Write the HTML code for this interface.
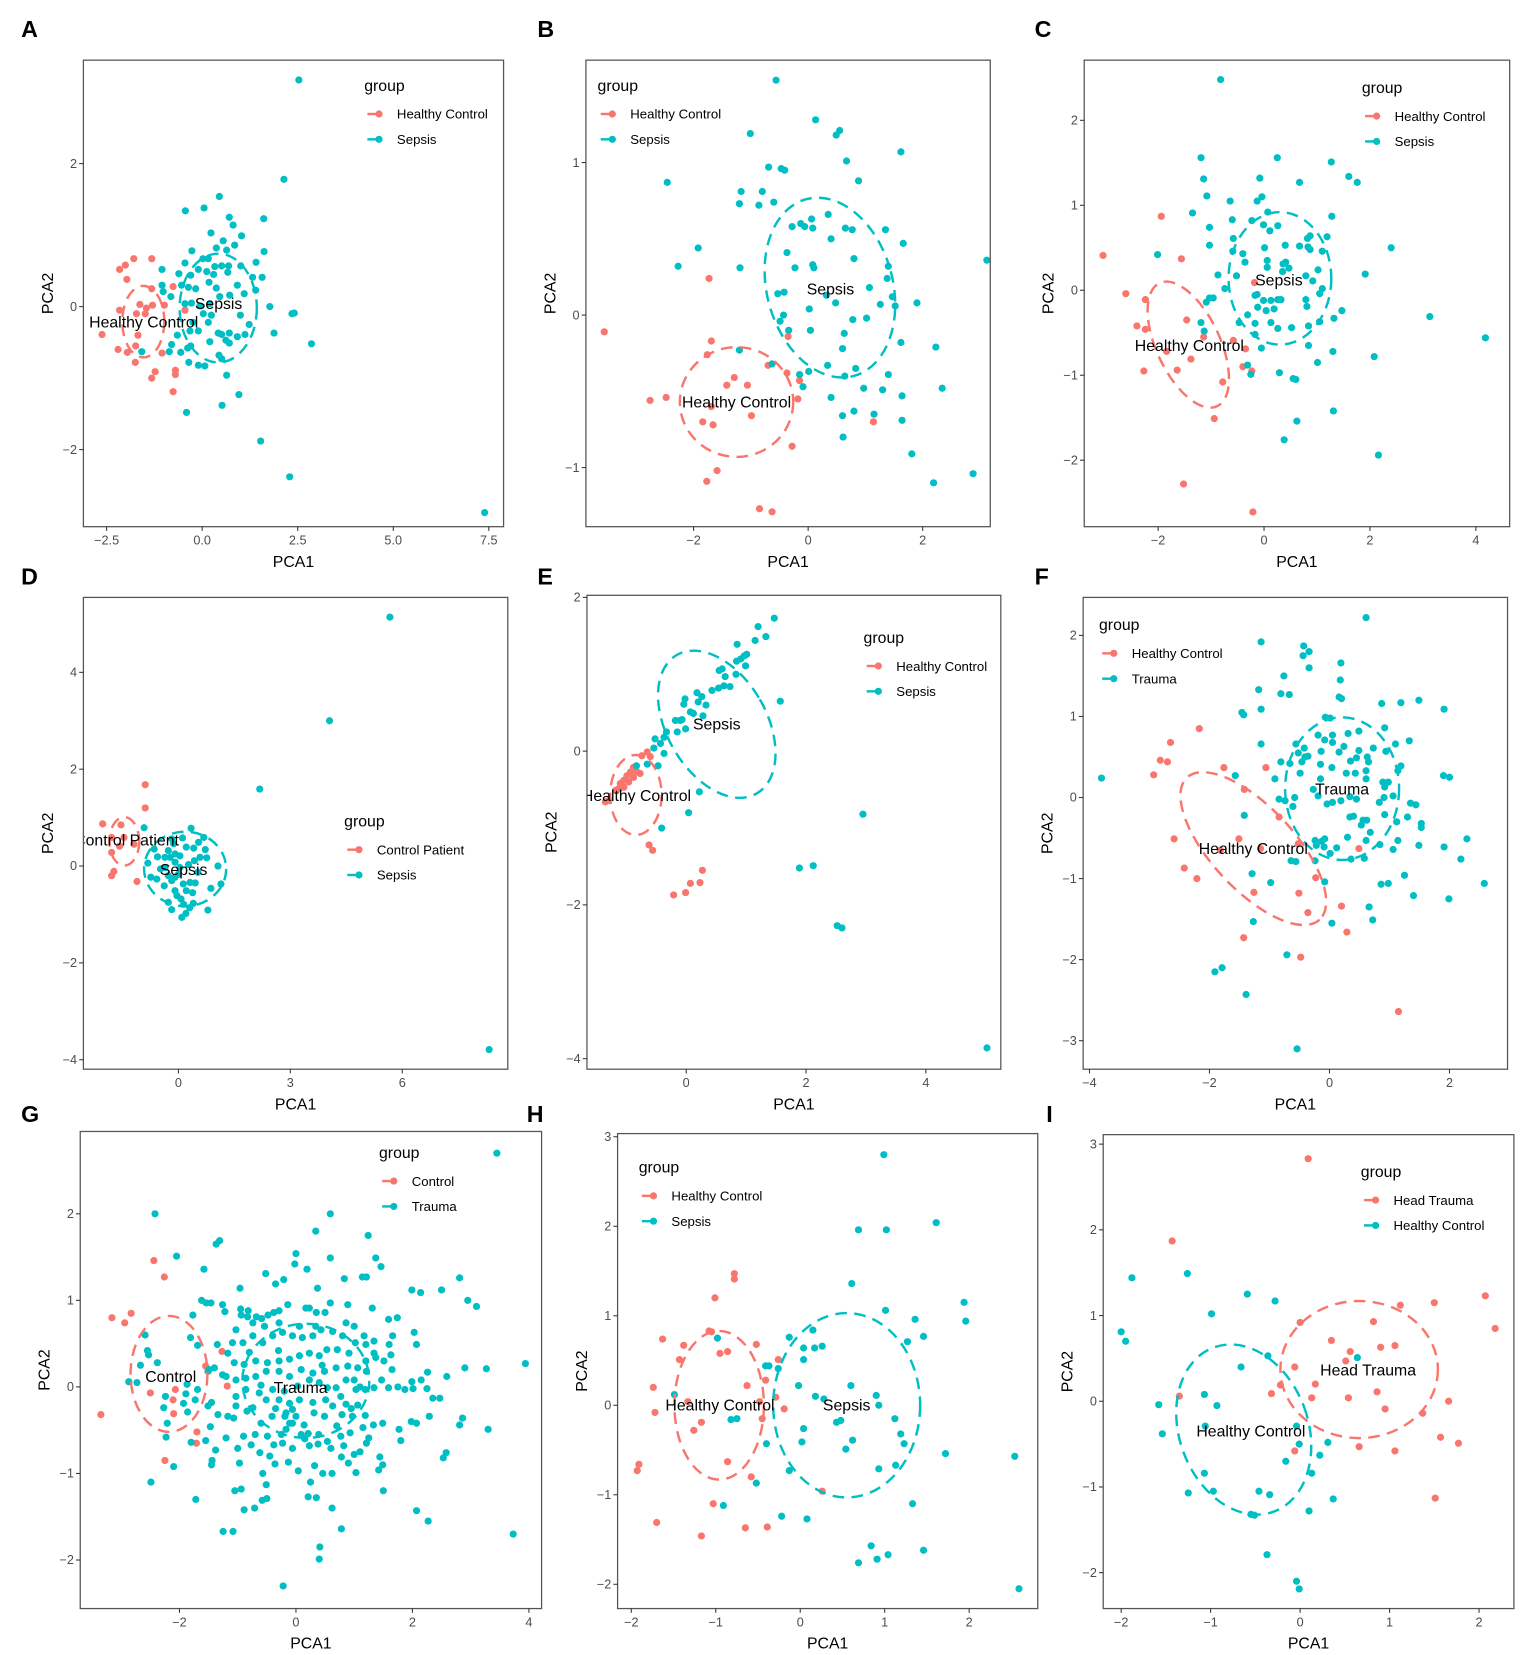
<!DOCTYPE html>
<html><head><meta charset="utf-8">
<style>
html,body{margin:0;padding:0;background:#fff;}
svg{display:block;font-family:"Liberation Sans",Arial,sans-serif;}
</style></head>
<body>
<svg id="fig" xmlns="http://www.w3.org/2000/svg" width="1535" height="1655" viewBox="0 0 1454 1568" preserveAspectRatio="none">
<rect x="0" y="0" width="1454" height="1568" fill="#ffffff"/>
</svg>
<script>
// ---------- DATA ----------
const aRed=[[-2.16,0.52],[-2.01,0.58],[-1.79,0.67],[-1.32,0.67],[-1.97,0.38],[-1.32,0.25],[-0.76,0.28],[-2.16,-0.05],[-1.63,0.03],[-1.46,-0.02],[-1.3,0.02],[-0.99,0.02],[-1.72,-0.1],[-1.49,-0.1],[-2.62,-0.39],[-1.68,-0.4],[-2.2,-0.6],[-1.96,-0.64],[-1.74,-0.55],[-1.75,-0.78],[-1.05,-0.65],[-1.23,-0.91],[-1.32,-1.0],[-0.7,-0.89],[-0.7,-0.95],[-0.76,-1.19],[-0.45,-0.05]];
const aTeal=[[2.53,3.17],[2.14,1.78],[0.45,1.54],[-0.44,1.34],[0.05,1.38],[0.71,1.25],[0.81,1.14],[1.61,1.23],[0.23,1.03],[1.03,0.99],[0.55,0.92],[0.85,0.86],[1.62,0.77],[0.37,0.82],[0.64,0.79],[-0.27,0.78],[-0.45,0.61],[0.02,0.67],[0.16,0.67],[0.33,0.56],[0.51,0.57],[0.69,0.57],[1.01,0.57],[1.41,0.62],[-1.05,0.52],[-0.61,0.46],[-0.3,0.44],[-0.1,0.52],[0.12,0.49],[0.3,0.45],[0.67,0.48],[1.32,0.41],[1.57,0.41],[-1.05,0.3],[-0.54,0.3],[-0.36,0.27],[-0.17,0.25],[0.18,0.34],[0.37,0.26],[0.92,0.3],[1.4,0.23],[1.1,0.18],[-0.82,0.14],[-1.02,0.21],[-0.45,0.04],[-0.28,0.05],[-0.06,0.01],[0.2,0.04],[0.46,0.14],[0.72,0.16],[1.77,0],[0.03,-0.1],[0.24,-0.12],[1.0,-0.12],[2.35,-0.1],[2.41,-0.09],[-0.24,-0.22],[0.16,-0.22],[1.23,-0.25],[-0.32,-0.34],[-0.1,-0.34],[-0.65,-0.4],[0.42,-0.37],[0.51,-0.39],[0.71,-0.37],[0.92,-0.42],[1.12,-0.39],[1.88,-0.37],[2.86,-0.52],[-0.8,-0.53],[0.2,-0.49],[0.62,-0.47],[0.71,-0.51],[-0.3,-0.55],[-0.38,-0.58],[-0.86,-0.63],[-0.56,-0.64],[-1.58,-0.63],[0.44,-0.68],[0.51,-0.73],[-0.35,-0.78],[-0.1,-0.82],[0.07,-0.83],[0.64,-0.96],[0.52,-1.38],[0.96,-1.23],[-0.41,-1.48],[1.53,-1.88],[2.29,-2.38],[7.39,-2.88]];
const bRed=[[-3.56,-0.11],[-1.73,0.24],[-1.69,-0.17],[-1.76,-0.26],[-0.7,-0.33],[-0.35,-0.14],[-0.37,-0.38],[-0.15,-0.43],[-0.18,-0.55],[-1.29,-0.41],[-1.42,-0.46],[-1.06,-0.46],[-2.76,-0.56],[-2.48,-0.54],[-1.69,-0.6],[-0.99,-0.66],[-1.84,-0.7],[-1.66,-0.72],[-0.28,-0.86],[1.14,-0.7],[-1.59,-1.02],[-1.77,-1.09],[-0.85,-1.27],[-0.63,-1.29]];
const bTeal=[[-0.56,1.54],[0.13,1.28],[-1.01,1.19],[0.49,1.18],[0.55,1.21],[1.62,1.07],[0.67,1.01],[-0.69,0.97],[-0.47,0.96],[-0.41,0.95],[-2.46,0.87],[0.88,0.88],[-1.17,0.81],[-0.8,0.81],[-1.2,0.73],[-0.86,0.72],[-0.6,0.74],[0.06,0.63],[0.35,0.66],[-0.28,0.58],[-0.13,0.6],[-0.06,0.58],[0.08,0.57],[0.65,0.57],[0.77,0.56],[1.35,0.56],[0.4,0.5],[1.66,0.47],[-1.92,0.44],[-0.37,0.41],[0.8,0.37],[3.12,0.36],[-2.27,0.32],[-1.19,0.31],[-0.23,0.31],[0.08,0.33],[0.1,0.31],[1.4,0.32],[1.38,0.24],[1.07,0.18],[-0.53,0.14],[-0.42,0.15],[0.32,0.13],[0.48,0.08],[1.26,0.07],[1.47,0.12],[1.52,0.06],[1.9,0.08],[0.02,0.04],[-0.43,0],[-0.49,-0.04],[0.78,-0.03],[1.02,-0.02],[-0.34,-0.1],[0.04,-0.1],[0.63,-0.12],[1.62,-0.18],[0.6,-0.22],[2.23,-0.21],[-1.2,-0.23],[-0.63,-0.32],[0.34,-0.33],[0.01,-0.37],[-0.15,-0.39],[0.83,-0.35],[0.64,-0.4],[1.4,-0.39],[-0.09,-0.47],[0.97,-0.48],[1.3,-0.49],[2.34,-0.48],[1.64,-0.53],[0.4,-0.54],[0.6,-0.66],[0.8,-0.63],[1.15,-0.65],[1.64,-0.69],[0.61,-0.8],[1.81,-0.91],[2.88,-1.04],[2.19,-1.1]];
const cRed=[[-3.04,0.41],[-1.94,0.87],[-2.61,-0.04],[-1.56,0.37],[-2.24,-0.11],[-2.4,-0.42],[-2.24,-0.46],[-1.46,-0.35],[-1.14,-0.55],[-1.84,-0.72],[-1.38,-0.81],[-1.64,-0.94],[-2.27,-0.95],[-0.78,-1.08],[-0.94,-1.51],[-1.52,-2.28],[-0.21,-2.61],[-0.18,0.09],[-0.58,-0.59],[-0.35,-0.69],[-0.4,-0.9],[-0.23,-0.95]];
const cTeal=[[-0.82,2.48],[-1.19,1.56],[0.25,1.56],[1.27,1.51],[-1.14,1.31],[-0.08,1.32],[0.67,1.27],[1.6,1.34],[1.76,1.27],[-1.08,1.11],[-0.64,1.05],[-0.13,1.05],[-0.04,1.1],[-1.35,0.91],[-0.6,0.83],[0.07,0.92],[-0.23,0.82],[-0.01,0.77],[0.26,0.76],[0.11,0.7],[1.28,0.87],[-1.03,0.74],[-0.58,0.61],[0.82,0.61],[0.87,0.64],[1.19,0.63],[-1.03,0.53],[0.01,0.5],[0.4,0.53],[0.67,0.52],[0.83,0.51],[0.87,0.48],[1.1,0.46],[2.4,0.5],[-2.01,0.42],[-0.59,0.46],[-0.4,0.43],[-0.36,0.33],[0.06,0.35],[0.06,0.27],[0.36,0.31],[0.41,0.33],[0.47,0.26],[0.35,0.22],[1.02,0.24],[-0.87,0.18],[-0.52,0.17],[1.91,0.19],[0.79,0.17],[0.92,0.11],[1.1,0.02],[-0.74,0.02],[-0.17,-0.06],[-0.13,-0.05],[-0.01,-0.12],[0.13,-0.12],[0.26,-0.11],[0.32,-0.11],[0.79,-0.11],[1.05,-0.04],[-1.03,-0.09],[-0.96,-0.09],[-1.09,-0.14],[-0.12,-0.2],[0.04,-0.24],[0.19,-0.22],[0.81,-0.19],[1.47,-0.24],[-0.31,-0.29],[-1.19,-0.38],[-0.47,-0.38],[-0.17,-0.39],[0.13,-0.38],[0.26,-0.45],[0.52,-0.44],[0.84,-0.42],[1.05,-0.37],[1.32,-0.33],[3.13,-0.31],[-1.13,-0.48],[-0.17,-0.52],[-0.05,-0.68],[0.84,-0.65],[1.3,-0.72],[4.18,-0.56],[2.08,-0.78],[-0.31,-0.88],[-0.25,-0.99],[0.29,-0.97],[0.55,-1.04],[0.6,-1.05],[1.01,-0.85],[1.31,-1.42],[0.62,-1.54],[0.38,-1.76],[2.16,-1.94]];
const dRed=[[-0.89,1.68],[-0.89,1.2],[-2.03,0.87],[-1.54,0.85],[-1.79,0.59],[-1.46,0.59],[-1.58,0.41],[-1.79,0.28],[-1.73,-0.11],[-1.79,-0.2],[-1.11,-0.32],[-1.19,0.45]];
const dTeal=[[5.67,5.14],[4.05,3.0],[2.18,1.59],[8.33,-3.79],[-0.92,0.79],[0.34,0.78],[0.11,0.58],[0.68,0.59],[0.54,0.49],[0.72,0.34],[0.41,0.37],[0.21,0.39],[-0.13,0.46],[-0.27,0.32],[-0.36,0.18],[-0.56,0.19],[-0.65,0.35],[-0.82,0.06],[0.76,0.17],[0.43,0.11],[1.06,0],[0.27,0.03],[-0.09,0.08],[-0.48,-0.06],[-0.74,-0.23],[-0.58,-0.27],[-0.38,-0.41],[-0.18,-0.3],[0,-0.17],[0.13,-0.37],[0.31,-0.34],[0.45,-0.35],[0.87,-0.46],[1.14,-0.37],[0.21,-0.51],[0.38,-0.55],[-0.04,-0.61],[0.07,-0.68],[-0.27,-0.75],[0.14,-0.79],[0.4,-0.77],[0.3,-0.86],[-0.18,-0.9],[0.79,-0.91],[0.09,-1.06],[0.2,-0.98],[-0.09,-0.51],[-0.22,0.18],[-0.09,0.25],[-0.36,-0.03],[0.04,-0.03],[0.52,-0.13],[-0.09,-0.23],[-0.27,-0.2],[0.04,0.21],[-0.18,0.56],[0.58,0.18]];
const eRed=[[-1.35,-0.66],[-1.29,-0.64],[-1.13,-0.49],[-1.1,-0.42],[-1.04,-0.38],[-0.99,-0.32],[-0.93,-0.27],[-0.88,-0.21],[-0.82,-0.27],[-0.77,-0.29],[-0.74,-0.06],[-0.65,-0.01],[-0.6,-0.07],[-1.04,-0.47],[-1.18,-0.51],[-0.62,-1.22],[-0.56,-1.29],[0.27,-1.55],[0.23,-1.71],[0.07,-1.72],[-0.01,-1.84],[-0.21,-1.87],[-0.96,-0.4],[-0.88,-0.34]];
const eTeal=[[1.47,1.73],[1.2,1.62],[1.33,1.49],[1.15,1.44],[0.85,1.39],[1.01,1.26],[0.97,1.24],[0.91,1.2],[0.84,1.17],[0.99,1.11],[0.55,1.05],[0.6,1.07],[0.65,0.97],[0.83,1.0],[0.73,0.84],[0.63,0.85],[0.54,0.82],[0.43,0.79],[0.18,0.76],[0.26,0.71],[0.2,0.64],[0.33,0.6],[-0.02,0.68],[-0.04,0.61],[1.57,0.65],[0.07,0.51],[0.12,0.49],[0.28,0.46],[-0.07,0.41],[-0.18,0.4],[-0.1,0.4],[-0.01,0.29],[-0.15,0.25],[-0.33,0.25],[-0.37,0.18],[-0.52,0.16],[-0.43,0.1],[-0.54,0.04],[-0.37,-0.03],[-0.65,-0.17],[-0.47,-0.19],[-0.83,-0.19],[0.22,-0.53],[0.04,-0.8],[-0.41,-1.0],[2.95,-0.82],[1.89,-1.52],[2.12,-1.49],[2.52,-2.27],[2.6,-2.3],[5.02,-3.86]];
const fRed=[[-2.17,0.85],[-2.65,0.68],[-2.82,0.46],[-2.7,0.44],[-2.93,0.28],[-1.76,0.37],[-1.06,0.37],[-1.42,0.1],[-0.84,-0.24],[-2.59,-0.51],[-1.51,-0.51],[-1.15,-0.63],[-1.82,-0.65],[-0.52,-0.57],[0.49,-0.63],[-2.42,-0.87],[-2.21,-1.0],[-0.23,-0.99],[-1.26,-1.17],[-0.51,-1.18],[-0.36,-1.42],[0.2,-1.34],[0.29,-1.66],[-1.43,-1.73],[-0.48,-1.97],[1.15,-2.64]];
const fTeal=[[0.61,2.22],[-1.14,1.92],[-0.43,1.87],[-0.34,1.8],[-0.44,1.75],[-0.34,1.6],[0.19,1.66],[-0.76,1.5],[0.18,1.45],[-1.18,1.33],[-0.81,1.28],[-0.67,1.27],[0.16,1.24],[0.2,1.22],[0.87,1.16],[1.19,1.17],[1.49,1.2],[1.91,1.09],[-1.46,1.05],[-1.43,1.02],[-1.14,1.09],[-0.07,0.99],[0.01,0.98],[0.92,0.86],[-0.19,0.77],[0.05,0.77],[0.31,0.79],[0.49,0.82],[-0.08,0.71],[0.05,0.68],[-0.56,0.66],[-1.14,0.66],[1.1,0.66],[1.33,0.7],[-0.42,0.61],[0.24,0.63],[-0.14,0.57],[-0.52,0.55],[0.16,0.56],[0.73,0.61],[0.49,0.58],[-0.41,0.5],[-0.36,0.51],[-0.46,0.44],[-0.81,0.44],[-0.66,0.42],[-0.15,0.41],[0.04,0.37],[0.35,0.45],[0.45,0.49],[0.63,0.5],[0.65,0.44],[0.94,0.57],[1.19,0.39],[1.14,0.33],[-1.57,0.27],[-0.91,0.23],[-0.49,0.3],[-0.15,0.23],[0.28,0.3],[0.61,0.33],[0.43,0.3],[0.61,0.23],[1.9,0.27],[2.0,0.25],[-3.8,0.24],[-0.27,0.1],[-0.19,0.02],[0.89,0.19],[0.92,0.13],[0.98,0.19],[0.34,0.01],[0.45,-0.02],[-0.58,0],[-0.84,-0.02],[-0.74,-0.04],[-0.04,-0.08],[0.05,-0.06],[0.19,-0.04],[0.83,-0.06],[0.91,0],[1.06,0.02],[1.35,-0.07],[1.44,-0.09],[-0.61,-0.11],[-1.42,-0.22],[0.34,-0.24],[0.4,-0.23],[0.56,-0.28],[0.62,-0.28],[0.53,-0.34],[0.92,-0.21],[1.12,-0.3],[1.3,-0.24],[1.53,-0.32],[1.53,-0.37],[0.68,-0.43],[0.3,-0.49],[0.61,-0.53],[-0.24,-0.53],[-0.08,-0.51],[-0.13,-0.54],[-0.22,-0.59],[-0.09,-0.61],[0.12,-0.62],[0.84,-0.58],[1.14,-0.53],[1.49,-0.59],[1.91,-0.61],[2.29,-0.51],[0.01,-0.69],[-0.64,-0.78],[-0.56,-0.79],[-0.24,-0.78],[0.36,-0.76],[0.58,-0.75],[1.06,-0.64],[2.19,-0.76],[-1.29,-0.94],[-0.98,-1.05],[-0.08,-1.04],[0.86,-1.07],[0.98,-1.06],[1.25,-0.96],[2.58,-1.06],[1.4,-1.21],[1.99,-1.25],[0.66,-1.35],[0.72,-1.51],[-1.27,-1.53],[0.04,-1.55],[-0.71,-1.94],[-1.79,-2.1],[-1.91,-2.15],[-1.39,-2.43],[-0.54,-3.1]];
const gRed=[[-3.16,0.8],[-2.83,0.85],[-2.94,0.74],[-2.44,1.46],[-2.26,1.27],[-1.27,0.41],[-1.18,0.01],[-2.07,-0.03],[-2.5,-0.07],[-2.11,-0.15],[-2.1,-0.31],[-3.35,-0.32],[-1.7,-0.52],[-1.71,-0.65],[-2.25,-0.85],[-1.55,0.24]];
const gTeal=[[3.45,2.7],[-2.42,2.0],[0.59,2.0],[0.34,1.8],[1.24,1.75],[-1.37,1.65],[-1.31,1.69],[-2.05,1.51],[0,1.54],[0.59,1.49],[1.37,1.49],[1.46,1.39],[-1.58,1.36],[-0.02,1.42],[0.19,1.36],[-0.52,1.31],[-0.35,1.19],[-0.21,1.24],[0.37,1.14],[0.83,1.25],[1.14,1.27],[1.21,1.27],[2.81,1.26],[-0.96,1.14],[1.99,1.12],[2.14,1.09],[2.5,1.12],[2.95,1.0],[3.1,0.93],[-1.62,1.0],[-1.54,0.97],[-1.46,0.97],[-1.26,0.95],[-0.14,0.95],[0.59,0.97],[0.89,0.95],[1.31,0.91],[-1.77,0.83],[-1.22,0.87],[-0.95,0.9],[-0.82,0.88],[-0.94,0.83],[-0.83,0.81],[-0.68,0.81],[-0.59,0.79],[-0.48,0.83],[-0.38,0.86],[-0.29,0.88],[0.17,0.91],[0.23,0.91],[0.35,0.86],[0.5,0.86],[1.59,0.78],[1.74,0.8],[-2.59,0.6],[-1.81,0.57],[2.03,0.63],[2.07,0.49],[-2.55,0.42],[-2.53,0.37],[-2.67,0.25],[-2.38,0.28],[-2.87,0.06],[-2.73,0.05],[3.94,0.27],[2.9,0.22],[3.27,0.21],[2.59,0.12],[2.26,0.17],[2.15,0.08],[1.99,0.06],[2.01,-0.02],[1.87,-0.03],[1.75,0],[1.59,-0.01],[2.25,-0.02],[2.35,-0.13],[2.47,-0.13],[2.29,-0.34],[2.86,-0.36],[2.81,-0.44],[3.3,-0.49],[1.98,-0.4],[2.07,-0.42],[1.77,-0.49],[1.8,-0.62],[1.49,-0.42],[2.58,-0.76],[2.53,-0.82],[1.44,-0.81],[1.49,-0.9],[1.42,-0.96],[1.5,-1.2],[2.07,-1.43],[2.27,-1.55],[3.73,-1.7],[-2.49,-1.1],[-2.1,-0.92],[-2.23,-0.58],[-2.21,-0.42],[-2.27,-0.24],[-2.24,-0.11],[-1.87,0.03],[-1.89,-0.08],[-1.93,-0.19],[-1.86,-0.29],[-1.69,-0.03],[-1.73,-0.15],[-1.51,-0.22],[-1.45,-0.18],[-1.34,-0.32],[-1.47,-0.46],[-1.55,-0.62],[-1.8,-0.64],[-1.38,-0.73],[-1.44,-0.85],[-1.45,-0.9],[-1.72,-1.3],[-1.05,-1.2],[-0.94,-1.18],[-0.89,-1.42],[-0.71,-1.4],[-1.25,-1.67],[-1.08,-1.67],[-0.58,-1.31],[-0.5,-1.29],[-0.51,-1.13],[0.21,-1.27],[0.35,-1.28],[0.25,-1.1],[0.62,-1.4],[0.78,-1.64],[0.41,-1.85],[0.4,-1.99],[-0.22,-2.3],[-0.97,-0.88],[-0.57,-1.0],[-0.36,-0.89],[-0.13,-0.87],[0.04,-0.97],[0.32,-0.91],[0.46,-1.0],[0.62,-1.0],[1.03,-0.99],[0.9,-0.88],[0.78,-0.81],[1.0,-0.78],[1.1,-0.75],[1.25,-0.59],[1.21,-0.65],[0.82,-0.68],[0.6,-0.71],[0.38,-0.66],[0.23,-0.68],[0.09,-0.55],[-0.06,-0.71],[-0.23,-0.65],[-0.38,-0.67],[-0.62,-0.76],[-0.77,-0.67],[-1.0,-0.71],[-1.2,-0.59],[-0.9,-0.57],[-0.7,-0.55],[-0.49,-0.57],[-0.25,-0.55],[0.21,-0.54],[0.39,-0.55],[0.54,-0.63],[0.77,-0.57],[0.93,-0.53],[1.15,-0.47],[1.33,-0.44],[1.19,-0.33],[0.97,-0.34],[0.79,-0.32],[0.63,-0.22],[0.86,-0.2],[1.06,-0.21],[0.49,-0.34],[0.31,-0.3],[0.14,-0.44],[-0.06,-0.42],[-0.19,-0.34],[-0.41,-0.34],[-0.6,-0.42],[-0.84,-0.28],[-1.07,-0.36],[-1.17,-0.34],[-1.03,-0.22],[-0.74,-0.24],[-0.51,-0.15],[-0.29,-0.15],[-0.11,-0.19],[0.06,-0.15],[0.29,-0.18],[0.51,-0.15],[0.77,-0.11],[1.03,-0.03],[1.19,-0.03],[1.34,-0.01],[1.47,0.08],[1.21,0.18],[1.0,0.08],[0.86,0.08],[0.69,-0.01],[0.54,-0.01],[0.4,0.05],[0.23,0.08],[0.03,0.01],[-0.2,-0.05],[-0.4,-0.03],[-0.63,-0.07],[-0.86,-0.03],[-1.03,-0.11],[-1.2,0.12],[-1.03,0.08],[-0.86,0.1],[-0.69,0.12],[-0.51,0.18],[-0.29,0.18],[-0.11,0.12],[0.09,0.2],[0.29,0.16],[0.49,0.18],[0.69,0.22],[0.89,0.24],[1.06,0.22],[1.2,0.3],[1.37,0.34],[1.51,0.3],[1.65,0.2],[1.63,0.37],[1.66,0.59],[1.6,0.49],[1.34,0.39],[1.2,0.49],[1.02,0.51],[0.91,0.39],[0.71,0.43],[0.53,0.43],[0.4,0.36],[0.23,0.39],[0.06,0.36],[-0.11,0.32],[-0.29,0.3],[-0.49,0.28],[-0.69,0.3],[-0.89,0.26],[-1.06,0.28],[-1.26,0.14],[-1.4,0.22],[-1.51,0.18],[-1.17,0.39],[-1.09,0.51],[-0.91,0.51],[-0.74,0.59],[-0.57,0.51],[-0.4,0.59],[-0.23,0.63],[-0.06,0.59],[0.11,0.57],[0.29,0.59],[0.43,0.66],[0.63,0.64],[0.8,0.59],[1.0,0.7],[1.17,0.59],[1.34,0.53],[-1.03,0.66],[-0.74,0.74],[-0.54,0.7],[-0.29,0.74],[0.06,0.7],[0.34,0.7],[0.86,0.74],[-1.35,0.49],[-1.69,0.48],[-1.49,0.2],[-0.17,-0.3],[-0.11,-0.42],[-0.17,-0.49],[0,-0.34],[-0.06,-0.26],[-0.6,0.02],[-0.3,0.42],[0.7,-0.45],[0.15,-0.6],[-0.45,-0.8],[1.1,0.0],[-0.8,0.4],[0.45,0.25],[-0.35,-0.25],[0.95,-0.25]];
const hRed=[[-0.78,1.47],[-0.78,1.41],[-1.01,1.2],[-1.08,0.83],[-1.05,0.82],[-1.63,0.74],[-1.38,0.67],[-0.52,0.68],[-0.95,0.58],[-0.86,0.6],[-1.43,0.51],[-0.26,0.51],[-1.74,0.2],[-0.63,0.22],[-0.41,0.28],[-0.29,0.09],[-1.33,0.04],[-0.48,0.04],[-1.72,-0.08],[-0.19,-0.04],[-0.45,-0.15],[-1.17,-0.19],[-1.26,-0.28],[-1.91,-0.66],[-1.93,-0.73],[-0.86,-0.63],[-0.58,-0.8],[0.26,-0.96],[-1.03,-1.1],[-1.7,-1.31],[-1.17,-1.46],[-0.65,-1.37],[-0.39,-1.36]];
const hTeal=[[0.99,2.8],[0.69,1.96],[1.02,1.96],[1.61,2.04],[0.61,1.36],[1.94,1.15],[1.96,0.94],[1.01,1.06],[1.36,0.96],[1.46,0.77],[1.27,0.71],[-0.98,0.75],[-0.13,0.76],[0.15,0.84],[0.04,0.64],[0.17,0.64],[0.26,0.66],[0.04,0.51],[-0.41,0.44],[-0.37,0.44],[-0.26,0.41],[-0.02,0.22],[0.6,0.22],[-1.49,0.12],[0.18,0.1],[0.28,0.07],[0.9,0.11],[0.93,0],[-0.82,-0.16],[-0.75,-0.15],[0.43,-0.19],[0.48,-0.17],[1.12,-0.15],[0.04,-0.26],[1.19,-0.32],[-0.4,-0.43],[0.02,-0.41],[0.62,-0.39],[1.23,-0.43],[0.54,-0.49],[1.72,-0.54],[2.54,-0.57],[-0.13,-0.73],[0.93,-0.71],[1.13,-0.67],[-0.52,-0.87],[-0.91,-1.12],[-0.22,-1.24],[0.08,-1.27],[1.33,-1.1],[0.84,-1.57],[1.46,-1.62],[0.69,-1.76],[0.91,-1.72],[1.04,-1.67],[2.59,-2.05]];
const iRed=[[0.09,2.83],[-1.43,1.87],[2.07,1.23],[2.18,0.85],[1.12,1.12],[1.5,1.15],[0,0.92],[0.82,0.93],[0.35,0.71],[0.9,0.63],[1.06,0.65],[0.56,0.58],[0.51,0.47],[-0.06,0.4],[-0.22,0.19],[0.17,0.2],[-0.32,0.09],[-1.35,0.06],[0.13,0.04],[0.54,0.04],[0.86,0.11],[1.66,0],[0.95,-0.09],[1.37,-0.14],[1.57,-0.42],[1.77,-0.49],[0.66,-0.53],[-0.06,-0.58],[1.06,-0.58],[1.51,-1.13]];
const iTeal=[[-2.0,0.81],[-1.95,0.7],[-1.88,1.44],[-1.26,1.49],[-0.59,1.25],[-0.28,1.17],[-0.99,1.02],[-0.36,0.53],[0.64,0.51],[-0.66,0.4],[-1.07,0.08],[-0.93,-0.05],[-1.58,-0.04],[-1.54,-0.38],[-1.06,-0.29],[-0.04,-0.29],[-0.01,-0.5],[0.31,-0.48],[0.22,-0.63],[-0.16,-0.7],[0.13,-0.84],[-1.07,-0.84],[-1.25,-1.07],[-0.97,-1.05],[-0.46,-1.05],[-0.34,-1.09],[0.37,-1.14],[0.1,-1.28],[-0.55,-1.32],[-0.51,-1.33],[-0.37,-1.79],[-0.04,-2.1],[-0.01,-2.19]];
// ellipses: [cx, cy, rx(x-units), ry(y-units), rotation deg]
const aEll=[[-1.54,-0.21,0.55,0.5,0],[0.42,-0.02,1.01,0.76,0]];
const bEll=[[-1.25,-0.57,0.99,0.36,0],[0.38,0.18,1.1,0.6,-15]];
const cEll=[[-1.43,-0.64,0.6,0.8,-25],[0.3,0.14,0.97,0.78,0]];
const dEll=[[-1.45,0.51,0.4,0.5,0],[0.18,-0.06,1.1,0.77,0]];
const eEll=[[-0.84,-0.57,0.43,0.52,0],[0.51,0.35,0.83,1.04,-30]];
const fEll=[[-1.27,-0.63,1.62,0.51,47],[0.21,0.11,0.95,0.88,0]];
const gEll=[[-2.18,0.15,0.66,0.67,0],[0.17,0.07,1.09,0.66,0]];
const hEll=[[-0.96,0,0.53,0.83,0],[0.55,0,0.87,1.03,0]];
const iEll=[[0.66,0.37,0.88,0.8,0],[-0.63,-0.33,0.72,1.02,-20]];
// group label positions (centroids)
const aLab=[[-1.53,-0.22],[0.43,0.04]];
const bLab=[[-1.25,-0.57],[0.39,0.17]];
const cLab=[[-1.41,-0.65],[0.28,0.12]];
const dLab=[[-1.39,0.53],[0.14,-0.08]];
const eLab=[[-0.83,-0.58],[0.51,0.35]];
const fLab=[[-1.27,-0.63],[0.21,0.1]];
const gLab=[[-2.15,0.12],[0.08,-0.01]];
const hLab=[[-0.95,0],[0.55,0]];
const iLab=[[0.76,0.36],[-0.55,-0.35]];
// group names
const aNames=['Healthy Control','Sepsis'];
const bNames=['Healthy Control','Sepsis'];
const cNames=['Healthy Control','Sepsis'];
const dNames=['Control Patient','Sepsis'];
const eNames=['Healthy Control','Sepsis'];
const fNames=['Healthy Control','Trauma'];
const gNames=['Control','Trauma'];
const hNames=['Healthy Control','Sepsis'];
const iNames=['Head Trauma','Healthy Control'];
// ticks
const aXT=[-2.5,0,2.5,5,7.5]; const aXL=['−2.5','0.0','2.5','5.0','7.5']; const aYT=[-2,0,2]; const aYL=['−2','0','2'];
const bXT=[-2,0,2]; const bXL=['−2','0','2']; const bYT=[-1,0,1]; const bYL=['−1','0','1'];
const cXT=[-2,0,2,4]; const cXL=['−2','0','2','4']; const cYT=[-2,-1,0,1,2]; const cYL=['−2','−1','0','1','2'];
const dXT=[0,3,6]; const dXL=['0','3','6']; const dYT=[-4,-2,0,2,4]; const dYL=['−4','−2','0','2','4'];
const eXT=[0,2,4]; const eXL=['0','2','4']; const eYT=[-4,-2,0,2]; const eYL=['−4','−2','0','2'];
const fXT=[-4,-2,0,2]; const fXL=['−4','−2','0','2']; const fYT=[-3,-2,-1,0,1,2]; const fYL=['−3','−2','−1','0','1','2'];
const gXT=[-2,0,2,4]; const gXL=['−2','0','2','4']; const gYT=[-2,-1,0,1,2]; const gYL=['−2','−1','0','1','2'];
const hXT=[-2,-1,0,1,2]; const hXL=['−2','−1','0','1','2']; const hYT=[-2,-1,0,1,2,3]; const hYL=['−2','−1','0','1','2','3'];
const iXT=[-2,-1,0,1,2]; const iXL=['−2','−1','0','1','2']; const iYT=[-2,-1,0,1,2,3]; const iYL=['−2','−1','0','1','2','3'];

// ---------- LAYOUT (pixel positions, not data) ----------
const layout=[
 {id:'a',letter:'A',lp:[20,35],box:[79,57,477,499],xr:[-2.5,101,7.5,463],yr:[2,155,-2,426],leg:[345,81],red:aRed,teal:aTeal,ell:aEll,lab:aLab,names:aNames,xt:aXT,xl:aXL,yt:aYT,yl:aYL},
 {id:'b',letter:'B',lp:[509,35],box:[555,57,938,499],xr:[-2,657,2,874],yr:[1,154,-1,443],leg:[566,81],red:bRed,teal:bTeal,ell:bEll,lab:bLab,names:bNames,xt:bXT,xl:bXL,yt:bYT,yl:bYL},
 {id:'c',letter:'C',lp:[980,35],box:[1027,57,1430,499],xr:[-2,1097,4,1398],yr:[2,114,-2,436],leg:[1290,83],red:cRed,teal:cTeal,ell:cEll,lab:cLab,names:cNames,xt:cXT,xl:cXL,yt:cYT,yl:cYL},
 {id:'d',letter:'D',lp:[20,554],box:[79,566,481,1013],xr:[0,169,6,381],yr:[4,637,-4,1004],leg:[326,778],red:dRed,teal:dTeal,ell:dEll,lab:dLab,names:dNames,xt:dXT,xl:dXL,yt:dYT,yl:dYL},
 {id:'e',letter:'E',lp:[509,554],box:[556,564,948,1013],xr:[0,650,4,877],yr:[2,566,-4,1003],leg:[818,604],red:eRed,teal:eTeal,ell:eEll,lab:eLab,names:eNames,xt:eXT,xl:eXL,yt:eYT,yl:eYL},
 {id:'f',letter:'F',lp:[980,554],box:[1026,566,1428,1013],xr:[-4,1032,2,1373],yr:[2,602,-3,986],leg:[1041,592],red:fRed,teal:fTeal,ell:fEll,lab:fLab,names:fNames,xt:fXT,xl:fXL,yt:fYT,yl:fYL},
 {id:'g',letter:'G',lp:[20,1063],box:[76,1072,513,1524],xr:[-2,170,4,501],yr:[2,1150,-2,1478],leg:[359,1092],red:gRed,teal:gTeal,ell:gEll,lab:gLab,names:gNames,xt:gXT,xl:gXL,yt:gYT,yl:gYL},
 {id:'h',letter:'H',lp:[499,1063],box:[585,1074,983,1524],xr:[-2,598,2,918],yr:[3,1077,-2,1501],leg:[605,1106],red:hRed,teal:hTeal,ell:hEll,lab:hLab,names:hNames,xt:hXT,xl:hXL,yt:hYT,yl:hYL},
 {id:'i',letter:'I',lp:[991,1063],box:[1045,1075,1434,1524],xr:[-2,1062,2,1401],yr:[3,1084,-2,1490],leg:[1289,1110],red:iRed,teal:iTeal,ell:iEll,lab:iLab,names:iNames,xt:iXT,xl:iXL,yt:iYT,yl:iYL}
];
const RED='#F8766D', TEAL='#00BFC4';
const NS='http://www.w3.org/2000/svg';
const svg=document.getElementById('fig');
function mk(tag,attrs,parent){const e=document.createElementNS(NS,tag);for(const k in attrs)e.setAttribute(k,attrs[k]);(parent||svg).appendChild(e);return e;}
const defs=mk('defs',{});

layout.forEach(p=>{
  const sx=v=>p.xr[1]+(v-p.xr[0])*(p.xr[3]-p.xr[1])/(p.xr[2]-p.xr[0]);
  const sy=v=>p.yr[1]+(v-p.yr[0])*(p.yr[3]-p.yr[1])/(p.yr[2]-p.yr[0]);
  const kx=Math.abs((p.xr[3]-p.xr[1])/(p.xr[2]-p.xr[0]));
  const ky=Math.abs((p.yr[3]-p.yr[1])/(p.yr[2]-p.yr[0]));
  const [x0,y0,x1,y1]=p.box;
  const g=mk('g',{});
  
  
  const letter=mk('text',{x:p.lp[0],y:p.lp[1],'font-size':22,'font-weight':'bold',fill:'#000'},g);
  letter.textContent=p.letter;
  
  
  const cp=mk('clipPath',{id:'clip-'+p.id},defs);
  mk('rect',{x:x0,y:y0,width:x1-x0,height:y1-y0},cp);
  const bg=mk('rect',{x:x0,y:y0,width:x1-x0,height:y1-y0,fill:'#fff'},g);
  
  
  const inner=mk('g',{'clip-path':'url(#clip-'+p.id+')'},g);
  // points
  [[p.red,RED,'red'],[p.teal,TEAL,'teal']].forEach(([pts,col,nm])=>{
    pts.forEach(d=>{
      const c=mk('circle',{cx:sx(d[0]),cy:sy(d[1]),r:3.4,fill:col},inner);
      
      
    });
  });
  // ellipses
  p.ell.forEach((e,i)=>{
    const cx=sx(e[0]),cy=sy(e[1]);
    const el=mk('ellipse',{cx:cx,cy:cy,rx:e[2]*kx,ry:e[3]*ky,fill:'none',stroke:i===0?RED:TEAL,'stroke-width':2.3,'stroke-dasharray':'11 7',transform:'rotate('+e[4]+' '+cx+' '+cy+')'},inner);
    
    
  });
  // group labels
  p.lab.forEach((l,i)=>{
    const t=mk('text',{x:sx(l[0]),y:sy(l[1])+5,'font-size':15,'text-anchor':'middle',fill:'#000'},inner);
    t.textContent=p.names[i];
    
    
  });
  // legend
  const lg=mk('g',{},g);
  
  
  const lt=mk('text',{x:p.leg[0],y:p.leg[1]+5,'font-size':15,fill:'#000'},lg);
  lt.textContent='group';
  
  
  p.names.forEach((n,i)=>{
    const yy=p.leg[1]+27+i*24;
    const col=i===0?RED:TEAL;
    mk('line',{x1:p.leg[0]+3,y1:yy,x2:p.leg[0]+17,y2:yy,stroke:col,'stroke-width':2.3},lg);
    const dot=mk('circle',{cx:p.leg[0]+14,cy:yy,r:3.4,fill:col},lg);
    
    
    const tx=mk('text',{x:p.leg[0]+31,y:yy+4.5,'font-size':12.5,fill:'#000'},lg);
    tx.textContent=n;
    
    
  });
  // border
  const br=mk('rect',{x:x0,y:y0,width:x1-x0,height:y1-y0,fill:'none',stroke:'#555','stroke-width':1.2},g);
  
  
  // x ticks
  p.xt.forEach((v,i)=>{
    const x=sx(v);
    mk('line',{x1:x,y1:y1,x2:x,y2:y1+4,stroke:'#333','stroke-width':1},g);
    const t=mk('text',{x:x,y:y1+17,'font-size':12,'text-anchor':'middle',fill:'#4d4d4d'},g);
    t.textContent=p.xl[i];
    
    
  });
  p.yt.forEach((v,i)=>{
    const y=sy(v);
    mk('line',{x1:x0-4,y1:y,x2:x0,y2:y,stroke:'#333','stroke-width':1},g);
    const t=mk('text',{x:x0-6,y:y+4,'font-size':12,'text-anchor':'end',fill:'#4d4d4d'},g);
    t.textContent=p.yl[i];
    
    
  });
  const xa=mk('text',{x:(x0+x1)/2,y:y1+38,'font-size':15,'text-anchor':'middle',fill:'#000'},g);
  xa.textContent='PCA1';
  
  
  const ya=mk('text',{x:0,y:0,'font-size':15,'text-anchor':'middle',fill:'#000',transform:'translate('+(x0-29)+','+((y0+y1)/2)+') rotate(-90)'},g);
  ya.textContent='PCA2';
  
  
});
</script>
</body></html>
